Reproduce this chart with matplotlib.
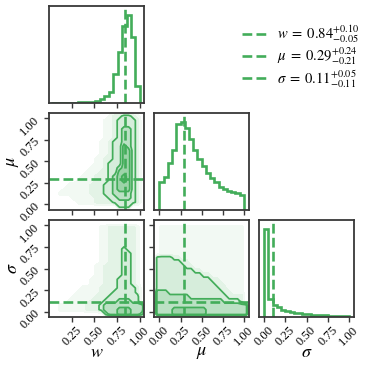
import numpy as np
import matplotlib
matplotlib.use("Agg")
import matplotlib.pyplot as plt
from matplotlib.lines import Line2D
from matplotlib.colors import to_rgb

plt.rcParams["font.family"] = ["Liberation Serif", "DejaVu Serif"]
plt.rcParams["mathtext.fontset"] = "stix"

# parameter summary
names = ["w", r"\mu", r"\sigma"]
medians = [0.84, 0.29, 0.11]
err_up = [0.10, 0.24, 0.05]
err_down = [0.05, 0.21, 0.11]

# 1d marginals, 20 bins each, relative counts
w_range = (0.02, 1.0)
w_counts = [0.002, 0.002, 0.003, 0.003, 0.004, 0.005, 0.006, 0.007, 0.009, 0.012,
            0.025, 0.045, 0.075, 0.13, 0.33, 0.58, 0.874, 1.0, 0.75, 0.195]
mu_range = (0.0, 1.0)
mu_counts = [0.32, 0.37, 0.53, 0.68, 0.98, 1.0, 0.93, 0.80, 0.68, 0.58,
             0.50, 0.42, 0.36, 0.32, 0.26, 0.24, 0.22, 0.20, 0.19, 0.17]
sigma_range = (0.0, 1.0)
sigma_counts = [1.0, 0.20, 0.14, 0.11, 0.085, 0.068, 0.056, 0.047, 0.040, 0.035,
                0.030, 0.027, 0.024, 0.021, 0.019, 0.017, 0.015, 0.014, 0.013, 0.012]

# axis limits
w_lim = (0.0, 1.045)
mu_lim = (-0.065, 1.06)
sigma_lim = (-0.06, 1.06)

# 2d sample density on a 0.05 grid (cell centres -0.075 ... 1.075), top row first
# 0 empty, 1 sparse samples, 2 dense samples, 3..6 inside successive contours
mu_vs_w = [
    "000000000000000000000000",
    "000000000000000122332100",
    "000000000000001123333200",
    "000000000000001123333200",
    "000000000000001123443200",
    "000000000000001123443200",
    "000000000000001123443200",
    "000000000000011233443200",
    "000000000000011233543200",
    "000000000000011233553200",
    "000000000000011233553200",
    "000000000000112233553200",
    "000000000000112333553200",
    "000000000001112334553200",
    "000000000011122335553200",
    "000000000111222345653200",
    "000000001111222345653200",
    "000000111112223345553200",
    "000001111112223345553200",
    "000011111112223344443200",
    "000000011111222334443200",
    "000000001111222233333200",
    "000000000000000003330000",
    "000000000000000000000000",
]
sigma_vs_w = [
    "000000000000000000000000",
    "000000000000000000000000",
    "000000000000011222222100",
    "000000000000011222222100",
    "000000000000011222222100",
    "000000000000011222222100",
    "000000000000011222222100",
    "000000000000011222322100",
    "000000000000011222332100",
    "000000000000011222332100",
    "000000000000011222332100",
    "000000000000112222332100",
    "000000000000112222332100",
    "000000000000112222332100",
    "000000000001112223332100",
    "000000000001112223332100",
    "000000000111122223333200",
    "000000001111122233333200",
    "000000011111222333333300",
    "000000111112223334443300",
    "000011111122234444444440",
    "000011111122234445554440",
    "000000000000003445554430",
    "000000000000000000000000",
]
sigma_vs_mu = [
    "000000000000000000000000",
    "000000000000000000000000",
    "001111111111111111111100",
    "001111111111111111111100",
    "001111111111111111111100",
    "001111111111111111111100",
    "001111111111111111111100",
    "001111111111111111111100",
    "001111111111111111111100",
    "033332211111111111111100",
    "033333322111111111111100",
    "033333332211111111111100",
    "033333333322111111111100",
    "033333333333221111111100",
    "033333333333332211111100",
    "033333333333333221111100",
    "033333333333333322111100",
    "044433333333333332211100",
    "044444444333333333222200",
    "044444444444444443333200",
    "044444444444444444444440",
    "044445555555544444444440",
    "044445555555544444444440",
    "000000000000000000000000",
]

green = "#43ad5a"
edge = "#383838"


def mix(t):
    g = np.array(to_rgb(green))
    return tuple(1 - t + t * g)


fill_levels = [0.5, 1.5, 2.5, 3.5, 4.5, 5.5, 10]
fill_colors = [mix(0.07), mix(0.15), mix(0.22), mix(0.36), mix(0.52), mix(0.7)]
line_levels = [2.5, 3.5, 4.5, 5.5]

W, H = 368, 367
col_x = [49, 154, 259]
row_y = [6, 113, 220]
aw, ah = 95, 97

fig = plt.figure(figsize=(W / 100, H / 100), dpi=100)


def panel(i, j):
    ax = fig.add_axes([col_x[j] / W, 1 - (row_y[i] + ah) / H, aw / W, ah / H])
    for s in ax.spines.values():
        s.set_color(edge)
        s.set_linewidth(1.3)
    ax.tick_params(direction="out", length=3.5, width=1, color=edge,
                   labelsize=9, pad=1.5)
    return ax


lims = [w_lim, mu_lim, sigma_lim]
ticks = [[0.25, 0.5, 0.75, 1.0], [0, 0.25, 0.5, 0.75, 1.0], [0, 0.25, 0.5, 0.75, 1.0]]
hists = [(w_range, w_counts), (mu_range, mu_counts), (sigma_range, sigma_counts)]
grids = {(1, 0): mu_vs_w, (2, 0): sigma_vs_w, (2, 1): sigma_vs_mu}

centres = -0.075 + 0.05 * np.arange(24)


def set_xt(ax, k, show):
    ax.set_xlim(lims[k])
    ax.set_xticks(ticks[k])
    if show:
        ax.set_xticklabels(["%.2f" % t for t in ticks[k]], rotation=45)
        ax.set_xlabel("$%s$" % names[k], fontsize=13)
        ax.xaxis.set_label_coords(0.5, -0.28)
    else:
        ax.set_xticklabels([])


def set_yt(ax, k, show):
    ax.set_ylim(lims[k])
    ax.set_yticks(ticks[k])
    if show:
        ax.set_yticklabels(["%.2f" % t for t in ticks[k]], rotation=45)
        ax.set_ylabel("$%s$" % names[k], fontsize=13)
        ax.yaxis.set_label_coords(-0.29, 0.5)
    else:
        ax.set_yticklabels([])


# diagonal histograms
for k in range(3):
    ax = panel(k, k)
    rng, counts = hists[k]
    edges = np.linspace(rng[0], rng[1], len(counts) + 1)
    ax.stairs(counts, edges, baseline=0, color=green, lw=1.9)
    ax.axvline(medians[k], color=green, ls="--", lw=1.9)
    ax.set_ylim(0, 1.1 * max(counts))
    ax.set_yticks([])
    set_xt(ax, k, k == 2)

# off-diagonal density panels
for (i, j), rows in grids.items():
    ax = panel(i, j)
    z = np.array([[int(c) for c in r] for r in rows[::-1]], dtype=float)
    ax.contourf(centres, centres, z, levels=fill_levels, colors=fill_colors)
    ax.contour(centres, centres, z, levels=line_levels, colors=green, linewidths=1.25)
    ax.axvline(medians[j], color=green, ls="--", lw=1.9)
    ax.axhline(medians[i], color=green, ls="--", lw=1.9)
    set_xt(ax, j, i == 2)
    set_yt(ax, i, j == 0)

# legend
labels = []
for n, m, u, d in zip(names, medians, err_up, err_down):
    labels.append(r"$%s\;=\;%.2f^{+%.2f}_{-%.2f}$" % (n, m, u, d))
handles = [Line2D([], [], color=green, ls="--", lw=1.9) for _ in labels]
fig.legend(handles, labels, loc="upper left", bbox_to_anchor=(229 / W, 1 - 10 / H),
           frameon=False, fontsize=10.5, handlelength=1.7, handletextpad=0.7,
           labelspacing=0.05)

fig.savefig("out.png", dpi=100)
